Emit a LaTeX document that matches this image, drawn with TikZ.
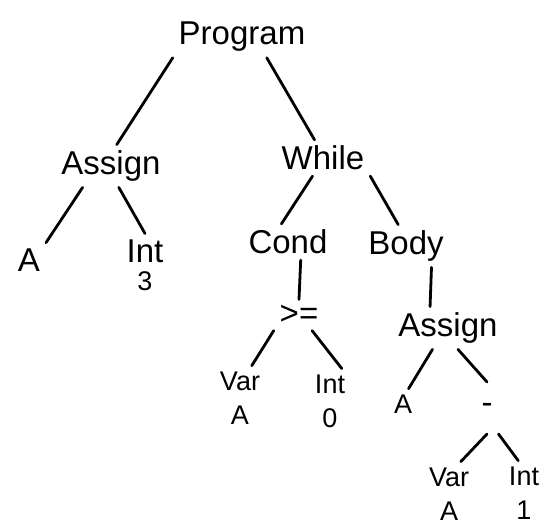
\documentclass[tikz,border=0pt]{standalone}
\usepackage{fontspec}
\setmainfont{Liberation Sans}
\begin{document}
\begin{tikzpicture}[
  x=1pt, y=-1pt,
  every node/.style={inner sep=2pt, outer sep=4pt, align=center},
  big/.style={font=\fontsize{33}{34}\selectfont},
  small/.style={font=\fontsize{27}{34}\selectfont},
  line/.style={line width=2.8pt, line cap=round, draw=black}
]
\useasboundingbox (0,0) rectangle (559,530);

\node[big] (prog) at (242,37) {Program};

\node[big] (assign1) at (111,166) {Assign};
\node[big] (while) at (323,158) {While};

\node[big] (a1) at (29,260) {A};
\node[big] (int3) at (145,265) {Int\\[-6pt]{\fontsize{27}{34}\selectfont 3}};
\node[big] (cond) at (288,242) {Cond};
\node[big] (body) at (406,246) {Body};

\node[big] (ge) at (299,315) {>=};
\node[big] (assign2) at (448,328) {Assign};

\node[small] (var1) at (240,398) {Var\\A};
\node[small] (int0) at (330,401) {Int\\0};
\node[small] (a2) at (403,404) {A};
\node[big, minimum height=44pt] (minus) at (487,408) {-};

\node[small] (var2) at (449,494) {Var\\A};
\node[small] (int1) at (524,493) {Int\\1};

% Edges
\draw [line] (prog.south west) -- (assign1.75);
\draw [line] (prog.-40) -- (while.115);
\draw [line] (assign1.217) -- (a1.north east);
\draw [line] (assign1.-70) -- (int3.north);
\draw [line] (while.-120) -- (cond.110);
\draw [line] (while.south east) -- (body.110);
\draw [line] (cond.-55) -- (ge.north);
\draw [line] (body.-40) -- (assign2.130);
\draw [line] (ge.south west) -- (var1.70);
\draw [line] (ge.-50) -- (int0.70);
\draw [line] (assign2.234) -- (a2.70);
\draw [line] (assign2.-65) -- (minus.north);
\draw [line] (minus.south) -- (var2.70);
\draw [line] (minus.south east) -- (int1.100);

\end{tikzpicture}
\end{document}
